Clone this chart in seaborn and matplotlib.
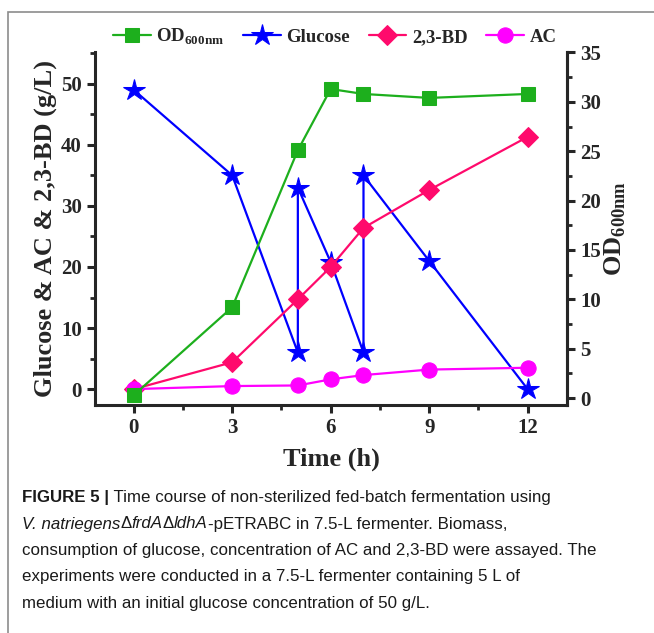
import matplotlib
matplotlib.use("Agg")
import matplotlib.pyplot as plt
import seaborn as sns
from matplotlib.patches import Rectangle
from matplotlib.ticker import MultipleLocator

# values
time_od = [0, 3, 5, 6, 7, 9, 12]
od600 = [0.3, 9.2, 25.1, 31.3, 30.8, 30.4, 30.8]

time_glc = [0, 3, 5, 5, 6, 7, 7, 9, 12]
glucose = [49.0, 35.0, 6.0, 33.0, 20.8, 6.0, 35.0, 21.0, 0.0]

time_bd = [0, 3, 5, 6, 7, 9, 12]
bd = [0.0, 4.4, 14.7, 20.0, 26.4, 32.6, 41.3]

time_ac = [0, 3, 5, 6, 7, 9, 12]
ac = [0.0, 0.5, 0.6, 1.6, 2.3, 3.2, 3.5]

x_ticks = [0, 3, 6, 9, 12]

sns.set_style("ticks")
plt.rcParams['font.family'] = ['Liberation Serif', 'DejaVu Serif']
plt.rcParams['font.weight'] = 'bold'
plt.rcParams['mathtext.fontset'] = 'custom'
plt.rcParams['mathtext.bf'] = 'Liberation Serif:bold'
plt.rcParams['mathtext.rm'] = 'Liberation Serif:bold'

GREEN = '#1DAF1D'
BLUE = '#0000FF'
PINK = '#FF0A6C'
MAGENTA = '#FF00FF'

fig = plt.figure(figsize=(6.54, 6.33), dpi=100)
ax = fig.add_axes([95 / 654, 1 - 405 / 633, (567 - 95) / 654, (405 - 52) / 633])
ax2 = ax.twinx()

lw = 1.6
sns.lineplot(x=time_glc, y=glucose, ax=ax, estimator=None, sort=False, color=BLUE,
             marker='*', markersize=16, markeredgecolor=BLUE, lw=lw, label='Glucose', legend=False)
sns.lineplot(x=time_bd, y=bd, ax=ax, estimator=None, sort=False, color=PINK,
             marker='D', markersize=10, markeredgecolor=PINK, lw=lw, label='2,3-BD', legend=False)
sns.lineplot(x=time_ac, y=ac, ax=ax, estimator=None, sort=False, color=MAGENTA,
             marker='o', markersize=11, markeredgecolor=MAGENTA, lw=lw, label='AC', legend=False)
sns.lineplot(x=time_od, y=od600, ax=ax2, estimator=None, sort=False, color=GREEN,
             marker='s', markersize=10, markeredgecolor=GREEN, lw=lw,
             label=r'$\mathbf{OD}_{\mathbf{600nm}}$', legend=False)

ax.set_xlim(-1.18, 13.2)
ax.set_ylim(-2.6, 55.2)
ax2.set_ylim(-0.7, 35.05)

ax.set_xticks(x_ticks)
ax.xaxis.set_minor_locator(MultipleLocator(1.5))
ax.yaxis.set_major_locator(MultipleLocator(10))
ax.yaxis.set_minor_locator(MultipleLocator(5))
ax2.yaxis.set_major_locator(MultipleLocator(5))
ax2.yaxis.set_minor_locator(MultipleLocator(2.5))

for a in (ax, ax2):
    a.spines['top'].set_visible(False)
    for s in a.spines.values():
        s.set_linewidth(2.2)
    a.tick_params(which='major', direction='out', length=6, width=2.2, labelsize=15)
    a.tick_params(which='minor', direction='out', length=3.5, width=2.0)
ax2.spines['left'].set_visible(False)
ax2.spines['bottom'].set_visible(False)

ax.set_xlabel('Time (h)', fontsize=19, fontweight='bold', labelpad=7)
ax.set_ylabel('Glucose & AC & 2,3-BD (g/L)', fontsize=19, fontweight='bold', labelpad=3)
ax2.set_ylabel(r'$\mathbf{OD}_{\mathbf{600nm}}$', fontsize=19, labelpad=1)

h1, l1 = ax.get_legend_handles_labels()
h2, l2 = ax2.get_legend_handles_labels()
handles = h2 + h1
labels = l2 + l1
fig.legend(handles, labels, loc='center', bbox_to_anchor=(0.512, 1 - 37 / 633), ncol=4,
           frameon=False, prop={'family': 'Liberation Serif', 'weight': 'bold', 'size': 13.5},
           handlelength=2.0, handletextpad=0.3, columnspacing=1.0)

# gray frame around the figure panel (right and bottom edges fall outside the image)
fig.patches.append(Rectangle((8 / 654, -1.0), 2.0, 2.0 - 11.5 / 633,
                             transform=fig.transFigure, fill=False,
                             edgecolor='#8c8c8c', lw=1.2))

# caption
cap_font = ['Liberation Sans Narrow', 'Liberation Sans']
renderer = fig.canvas.get_renderer()


def put_runs(x, y, runs):
    for text, style, weight in runs:
        t = fig.text(x, y, text, fontsize=12.2, family=cap_font, style=style,
                     weight=weight, va='baseline', ha='left', color='#1a1a1a')
        bb = t.get_window_extent(renderer)
        x += bb.width / fig.bbox.width


caption_lines = [
    [('FIGURE 5 |', 'normal', 'bold'),
     (' Time course of non-sterilized fed-batch fermentation using', 'normal', 'normal')],
    [('V. natriegens', 'italic', 'normal'), ('Δ', 'normal', 'normal'),
     ('frdA', 'italic', 'normal'), ('Δ', 'normal', 'normal'),
     ('ldhA', 'italic', 'normal'),
     ('-pETRABC in 7.5-L fermenter. Biomass,', 'normal', 'normal')],
    [('consumption of glucose, concentration of AC and 2,3-BD were assayed. The', 'normal', 'normal')],
    [('experiments were conducted in a 7.5-L fermenter containing 5 L of', 'normal', 'normal')],
    [('medium with an initial glucose concentration of 50 g/L.', 'normal', 'normal')],
]
for i, runs in enumerate(caption_lines):
    base = 502 + i * 26.5
    put_runs(22 / 654, 1 - base / 633, runs)

fig.savefig('out.png', dpi=100)
